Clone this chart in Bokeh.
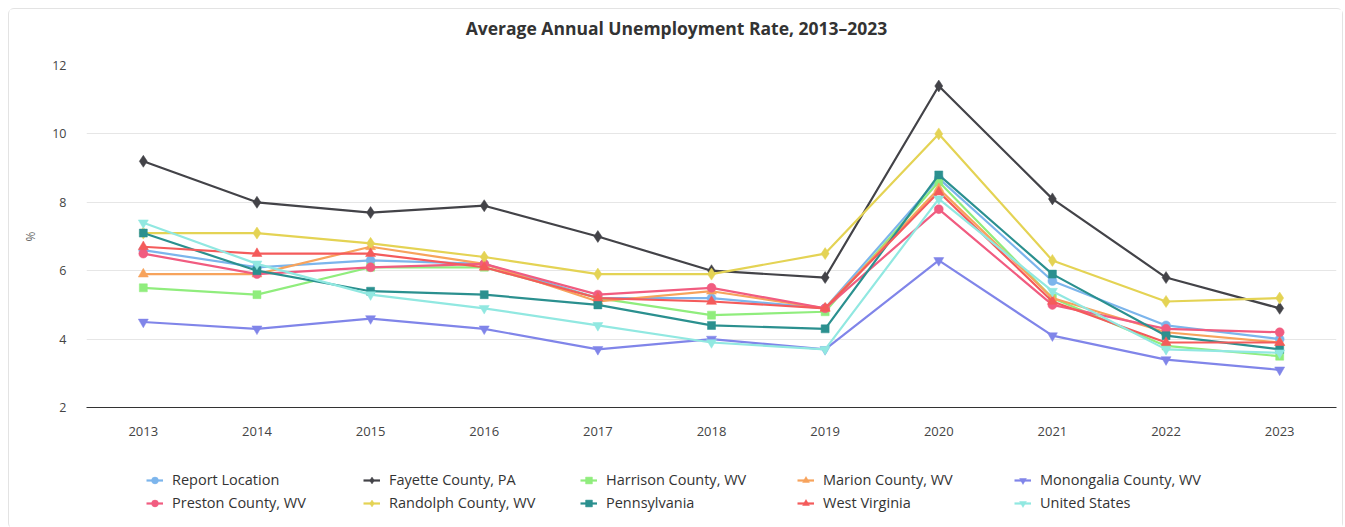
from bokeh.plotting import figure
from bokeh.layouts import column
from bokeh.models import Range1d, FixedTicker, Legend, LegendItem, Label
from bokeh.embed import file_html
from bokeh.resources import INLINE

years = [2013, 2014, 2015, 2016, 2017, 2018, 2019, 2020, 2021, 2022, 2023]

report_location = [6.6, 6.1, 6.3, 6.2, 5.2, 5.2, 4.9, 8.7, 5.7, 4.4, 4.0]
fayette_pa = [9.2, 8.0, 7.7, 7.9, 7.0, 6.0, 5.8, 11.4, 8.1, 5.8, 4.9]
harrison_wv = [5.5, 5.3, 6.1, 6.1, 5.2, 4.7, 4.8, 8.6, 5.2, 3.8, 3.5]
marion_wv = [5.9, 5.9, 6.7, 6.2, 5.1, 5.4, 4.9, 8.4, 5.2, 4.2, 3.9]
monongalia_wv = [4.5, 4.3, 4.6, 4.3, 3.7, 4.0, 3.7, 6.3, 4.1, 3.4, 3.1]
preston_wv = [6.5, 5.9, 6.1, 6.2, 5.3, 5.5, 4.9, 7.8, 5.0, 4.3, 4.2]
randolph_wv = [7.1, 7.1, 6.8, 6.4, 5.9, 5.9, 6.5, 10.0, 6.3, 5.1, 5.2]
pennsylvania = [7.1, 6.0, 5.4, 5.3, 5.0, 4.4, 4.3, 8.8, 5.9, 4.1, 3.7]
west_virginia = [6.7, 6.5, 6.5, 6.1, 5.2, 5.1, 4.9, 8.3, 5.1, 3.9, 3.9]
united_states = [7.4, 6.2, 5.3, 4.9, 4.4, 3.9, 3.7, 8.1, 5.4, 3.7, 3.6]

title_text = "Average Annual Unemployment Rate, 2013\u20132023"

series = [
    ("Report Location", report_location, "#7cb5ec", "circle", 9),
    ("Fayette County, PA", fayette_pa, "#434348", "diamond", 12),
    ("Harrison County, WV", harrison_wv, "#90ed7d", "square", 8),
    ("Marion County, WV", marion_wv, "#f7a35c", "triangle", 10),
    ("Monongalia County, WV", monongalia_wv, "#8085e9", "inverted_triangle", 10),
    ("Preston County, WV", preston_wv, "#f15c80", "circle", 9),
    ("Randolph County, WV", randolph_wv, "#e4d354", "diamond", 12),
    ("Pennsylvania", pennsylvania, "#2b908f", "square", 8),
    ("West Virginia", west_virginia, "#f45b5b", "triangle", 10),
    ("United States", united_states, "#91e8e1", "inverted_triangle", 10),
]

FONT = "Open Sans"
LW = 2.2


def strip(h):
    f = figure(width=1333, height=h, output_backend="svg",
               toolbar_location=None, x_axis_type=None, y_axis_type=None,
               x_range=Range1d(0, 1), y_range=Range1d(0, 1),
               min_border_left=0, min_border_right=0, min_border_top=0,
               min_border_bottom=0)
    f.outline_line_color = None
    f.xgrid.grid_line_color = None
    f.ygrid.grid_line_color = None
    return f


# title strip
t = strip(30)
t.add_layout(Label(x=590, y=12, x_units="screen", y_units="screen",
                   text=title_text, text_align="center",
                   text_baseline="middle", text_font=FONT,
                   text_font_size="17.5px", text_font_style="bold",
                   text_color="#333333"))

# main chart
p = figure(width=1333, height=424, output_backend="svg", toolbar_location=None,
           x_range=Range1d(2012.5, 2023.5), y_range=Range1d(2, 12),
           min_border_left=77, min_border_right=6, min_border_top=26,
           min_border_bottom=56)

p.outline_line_color = None
p.xgrid.grid_line_color = None
p.ygrid.grid_line_color = "#e6e6e6"
p.ygrid.ticker = FixedTicker(ticks=[4, 6, 8, 10, 12])

p.xaxis.ticker = FixedTicker(ticks=years)
p.xaxis.axis_line_color = "#333333"
p.xaxis.axis_line_width = 1
p.xaxis.major_tick_line_color = None
p.xaxis.minor_tick_line_color = None
p.xaxis.major_label_standoff = 13
p.xaxis.major_label_text_font = FONT
p.xaxis.major_label_text_font_size = "13px"
p.xaxis.major_label_text_color = "#444444"

p.yaxis.ticker = FixedTicker(ticks=[2, 4, 6, 8, 10, 12])
p.yaxis.axis_line_color = None
p.yaxis.major_tick_line_color = None
p.yaxis.minor_tick_line_color = None
p.yaxis.major_label_standoff = 14
p.yaxis.major_label_text_font = FONT
p.yaxis.major_label_text_font_size = "12.5px"
p.yaxis.major_label_text_color = "#444444"
p.yaxis.axis_label = "%"
p.yaxis.axis_label_text_font = FONT
p.yaxis.axis_label_text_font_size = "12px"
p.yaxis.axis_label_text_font_style = "normal"
p.yaxis.axis_label_text_color = "#666666"
p.yaxis.axis_label_standoff = 10

# legend strip: its copies of the series lie outside its ranges,
# so only the legend (not clipped by the chart frame) shows
q = strip(65)

items = []
for name, vals, color, marker, size in series:
    p.line(years, vals, line_color=color, line_width=LW)
    p.scatter(years, vals, marker=marker, size=size, fill_color=color,
              line_color=color, line_width=0.5)
    l1 = q.line(years, vals, line_color=color, line_width=LW)
    l2 = q.scatter(years, vals, marker=marker, size=size, fill_color=color,
                   line_color=color, line_width=0.5)
    items.append(LegendItem(label=name, renderers=[l1, l2]))


def make_legend(its, loc):
    return Legend(items=its, location=loc, orientation="horizontal",
                  glyph_width=17, glyph_height=18, label_height=18,
                  label_width=191, label_standoff=9, spacing=0, padding=0,
                  margin=0, border_line_color=None,
                  background_fill_alpha=0, label_text_font=FONT,
                  label_text_font_size="14.5px", label_text_color="#333333")


q.add_layout(make_legend(items[:5], (60, 39)), "center")
q.add_layout(make_legend(items[5:], (60, 16)), "center")

layout = column(t, p, q, spacing=0,
                styles={"margin-left": "8px", "margin-top": "8px",
                        "border": "1px solid #e3e3e3", "border-radius": "6px"})

open("out.html", "w").write(file_html(layout, INLINE))
